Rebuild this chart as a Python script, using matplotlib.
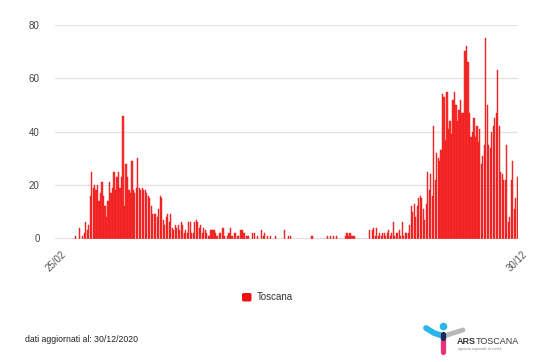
import matplotlib
matplotlib.use("Agg")
import matplotlib.pyplot as plt
from matplotlib.patches import FancyBboxPatch
import numpy as np

# ---- data (daily deaths, Toscana, 25/02/2020 -> 30/12/2020) ----
first_label = "25/02"
last_label = "30/12"
series_name = "Toscana"
footer_text = "dati aggiornati al: 30/12/2020"
y_ticks = [0, 20, 40, 60, 80]

wave1 = [0, 0, 0, 0, 0, 0, 0, 0, 0, 0, 0, 0, 0, 1, 0, 0, 4, 0, 1, 2,
         6, 3, 5, 16, 25, 19, 20, 18, 20, 14, 17, 21, 16, 12, 8, 14, 21, 17, 19, 25,
         18, 23, 25, 19, 23, 46, 12, 28, 23, 18, 17, 29, 18, 17, 19, 30, 19, 18, 19, 18,
         18, 17, 16, 15, 12, 9, 9, 9, 8, 11, 16, 15, 7, 5, 8, 9, 6, 9, 4, 3,
         5, 4, 5, 3, 6, 5, 2, 3, 2, 6, 6, 2, 2, 6, 7, 6, 4, 5, 2, 4]
summer = [3, 2, 1, 1, 3, 3, 3, 2, 1, 0, 2, 0, 4, 1, 0, 1, 2, 4, 1, 0,
          2, 0, 1, 0, 3, 3, 2, 0, 1, 1, 0, 0, 2, 2, 0, 1, 0, 0, 3, 1,
          2, 0, 1, 0, 1, 0, 0, 1, 0, 0, 0, 0, 0, 3, 0, 0, 1, 1, 0, 0,
          0, 0, 0, 0, 0, 0, 0, 0, 0, 0, 0, 1, 1, 0, 0, 0, 0, 0, 0, 0,
          0, 0, 1, 0, 1, 0, 1, 0, 1, 0, 0, 0, 0, 0, 1, 2, 1, 2, 1, 1,
          1, 0, 0, 0, 0, 0, 0, 0, 0, 0, 3, 0, 3, 4, 1, 4, 1, 2, 1, 2,
          2, 1, 2, 3, 1, 2, 6, 1]
wave2 = [2, 2, 3, 1, 6, 1, 2, 2, 2, 5, 12, 10, 13, 8, 12, 15, 16, 15, 11, 7,
         13, 25, 18, 24, 16, 42, 22, 32, 30, 29, 33, 54, 53, 37, 55, 41, 44, 39, 52, 55,
         50, 44, 48, 52, 47, 47, 70, 72, 66, 47, 38, 40, 45, 38, 42, 36, 41, 28, 31, 35,
         75, 50, 35, 34, 40, 42, 45, 47, 63, 42, 25, 24, 22, 22, 35, 6, 8, 22, 29, 11,
         15, 23]
values = wave1 + summer + wave2

# ---- figure ----
W, H = 548, 362
fig = plt.figure(figsize=(W / 100, H / 100), dpi=100)
plt.rcParams['font.family'] = ['Liberation Sans', 'DejaVu Sans']

ax = fig.add_axes([55 / W, 1 - 238.5 / H, (518 - 55) / W, (238.5 - 24.7) / H])
x = np.arange(len(values))
ax.bar(x, values, width=0.78, color='#ff2e2e', edgecolor='#e01a1a', linewidth=0.3, zorder=3)
ax.set_xlim(-0.5, len(values) - 0.5)
ax.set_ylim(0, 80)
ax.set_yticks(y_ticks)
ax.set_yticklabels([str(v) for v in y_ticks], fontsize=7, color='#444444')
ax.tick_params(axis='y', length=0, pad=11)
ax.set_xticks([0, len(values) - 1])
ax.set_xticklabels([first_label, last_label], rotation=45, ha='center', va='top',
                   fontsize=7, color='#555555')
ax.tick_params(axis='x', length=0, pad=8)
ax.grid(axis='y', color='#e2e2e2', linewidth=0.9, zorder=0)
for s in ax.spines.values():
    s.set_visible(False)
ax.axhline(0, color='#d0d0d0', linewidth=0.9, zorder=4)

# ---- legend ----
fig.patches.append(FancyBboxPatch((242 / W, 1 - 301.5 / H), 9.5 / W, 8.5 / H,
                                  boxstyle="round,pad=0,rounding_size=0.004",
                                  transform=fig.transFigure, facecolor='#ee1111',
                                  edgecolor='none'))
fig.text(257 / W, 1 - 297.5 / H, series_name, fontsize=7, va='center', ha='left',
         color='#333333')

# ---- footer ----
fig.text(25 / W, 1 - 339 / H, footer_text, fontsize=6.3, va='center', ha='left',
         color='#222222')

# ---- logo (approximation) ----
def P(px, py):
    return (px / W, 1 - py / H)

lx = [P(426, 328)[0], P(434, 333)[0], P(443, 336)[0]]
ly = [P(426, 328)[1], P(434, 333)[1], P(443, 336)[1]]
fig.add_artist(plt.Line2D(lx, ly, transform=fig.transFigure, color='#29b6e8',
                          linewidth=4.2, solid_capstyle='round'))
fig.add_artist(plt.Line2D([P(444, 336)[0], P(463, 330)[0]], [P(444, 336)[1], P(463, 330)[1]],
                          transform=fig.transFigure, color='#b8b8b8', linewidth=3.5,
                          solid_capstyle='round'))
fig.add_artist(plt.Line2D([P(443, 338)[0], P(443, 352)[0]], [P(443, 338)[1], P(443, 352)[1]],
                          transform=fig.transFigure, color='#e8337a', linewidth=3.8,
                          solid_capstyle='round'))
fig.add_artist(plt.Line2D([P(443, 334)[0], P(443, 338)[0]], [P(443, 334)[1], P(443, 338)[1]],
                          transform=fig.transFigure, color='#1a2a5a', linewidth=3.8,
                          solid_capstyle='round'))
fig.add_artist(plt.Line2D([P(443, 325.5)[0]], [P(443, 325.5)[1]], transform=fig.transFigure,
                          marker='o', markersize=4.5, color='#29b6e8', linestyle='none'))
fig.text(457 / W, 1 - 342 / H, "ARS", fontsize=6.5, fontweight='bold', va='center',
         ha='left', color='#3a3a3a')
fig.text(476 / W, 1 - 342 / H, "TOSCANA", fontsize=6.5, va='center', ha='left',
         color='#3a3a3a')
fig.text(458 / W, 1 - 349 / H, "agenzia regionale di sanità", fontsize=2.6, va='center',
         ha='left', color='#888888')

fig.savefig("out.png", dpi=100, facecolor='white')
